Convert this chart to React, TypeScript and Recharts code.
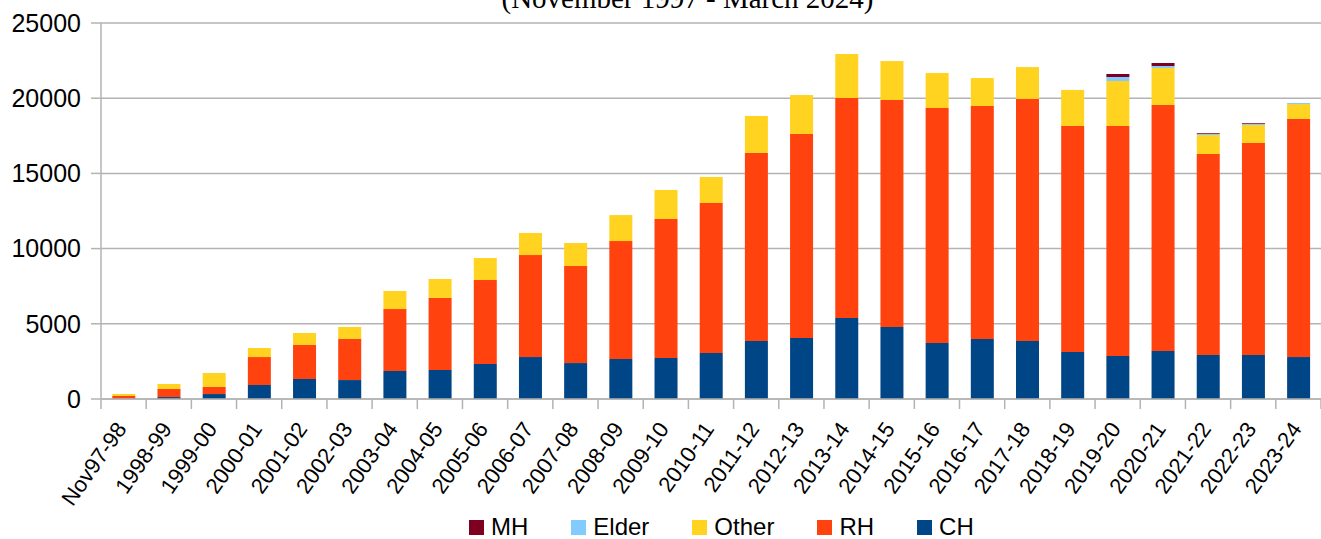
import React from "react";
import { BarChart, Bar, XAxis, YAxis, CartesianGrid } from "recharts";

const years = [
  "Nov97-98", "1998-99", "1999-00", "2000-01", "2001-02", "2002-03", "2003-04",
  "2004-05", "2005-06", "2006-07", "2007-08", "2008-09", "2009-10", "2010-11",
  "2011-12", "2012-13", "2013-14", "2014-15", "2015-16", "2016-17", "2017-18",
  "2018-19", "2019-20", "2020-21", "2021-22", "2022-23", "2023-24",
];

const ch = [
  20, 130, 330, 930, 1330, 1260, 1860, 1930, 2330, 2790, 2390, 2660, 2730, 3060,
  3860, 4060, 5390, 4790, 3720, 3990, 3860, 3130, 2860, 3190, 2930, 2930, 2790,
];
const rh = [
  180, 535, 470, 1860, 2260, 2730, 4120, 4790, 5580, 6780, 6450, 7840, 9240, 9970,
  12500, 13560, 14620, 15090, 15630, 15490, 16090, 15020, 15290, 16360, 13360, 14090, 15830,
];
const other = [
  130, 335, 930, 600, 800, 800, 1200, 1260, 1460, 1470, 1530, 1730, 1930, 1730,
  2460, 2590, 2930, 2590, 2330, 1860, 2120, 2400, 2990, 2460, 1260, 1200, 990,
];
const elder = [
  0, 0, 0, 0, 0, 0, 0, 0, 0, 0, 0, 0, 0, 0,
  0, 0, 0, 0, 0, 0, 0, 0, 270, 130, 70, 70, 70,
];
const mh = [
  0, 0, 0, 0, 0, 0, 0, 0, 0, 0, 0, 0, 0, 0,
  0, 0, 0, 0, 0, 0, 0, 0, 200, 200, 50, 50, 0,
];

const yTicks = [0, 5000, 10000, 15000, 20000, 25000];

const data = years.map((name, i) => ({
  name,
  CH: ch[i],
  RH: rh[i],
  Other: other[i],
  Elder: elder[i],
  MH: mh[i],
}));

const SERIES = [
  { key: "CH", color: "#004586" },
  { key: "RH", color: "#ff420e" },
  { key: "Other", color: "#ffd320" },
  { key: "Elder", color: "#83caff" },
  { key: "MH", color: "#7e0021" },
];

const W = 1321;
const H = 539;
const PLOT_LEFT = 101;
const PLOT_TOP = 23;
const PLOT_BOTTOM = 399;
const band = (W - PLOT_LEFT) / years.length;
const FONT = "'Liberation Sans', Arial, sans-serif";

const XTick = (props: any) => {
  const { x, y, payload, index } = props;
  const isLast = index === years.length - 1;
  const ax = x + 4;
  const ay = y + 30;
  return (
    <g>
      <line x1={x - band / 2} x2={x - band / 2} y1={y} y2={y + 10} stroke="#b3b3b3" strokeWidth={1.5} />
      {isLast && (
        <line x1={x + band / 2} x2={x + band / 2} y1={y} y2={y + 10} stroke="#b3b3b3" strokeWidth={1.5} />
      )}
      <text
        x={ax}
        y={ay}
        transform={`rotate(-55, ${ax}, ${ay})`}
        textAnchor="end"
        fontSize={22}
        fontFamily={FONT}
        fill="#000"
      >
        {payload.value}
      </text>
    </g>
  );
};

export default function App() {
  const legendItems = [...SERIES].reverse();
  return (
    <div style={{ position: "relative", width: W, height: H, background: "#fff", overflow: "hidden" }}>
      <style>{"body{margin:0}"}</style>
      <div
        style={{
          position: "absolute",
          left: 0,
          width: 1375,
          top: -18,
          textAlign: "center",
          fontFamily: "'Liberation Serif', 'Times New Roman', serif",
          fontSize: 29,
          lineHeight: "32px",
          color: "#000",
        }}
      >
        (November 1997 - March 2024)
      </div>
      <BarChart
        width={W}
        height={H}
        data={data}
        margin={{ top: PLOT_TOP, right: 0, left: 0, bottom: 0 }}
        barCategoryGap="25%"
      >
        <CartesianGrid vertical={false} stroke="#b3b3b3" strokeWidth={1.5} />
        <YAxis
          width={PLOT_LEFT}
          domain={[0, 25000]}
          ticks={yTicks}
          interval={0}
          axisLine={{ stroke: "#b3b3b3", strokeWidth: 1.5 }}
          tickLine={{ stroke: "#b3b3b3", strokeWidth: 1.5 }}
          tickSize={10}
          tickMargin={10}
          tick={{ fontSize: 25, fontFamily: FONT, fill: "#000" }}
        />
        <XAxis
          dataKey="name"
          height={H - PLOT_BOTTOM}
          interval={0}
          axisLine={{ stroke: "#b3b3b3", strokeWidth: 1.5 }}
          tickLine={false}
          tickSize={0}
          tickMargin={0}
          tick={<XTick />}
        />
        {SERIES.map((s) => (
          <Bar key={s.key} dataKey={s.key} stackId="a" fill={s.color} isAnimationActive={false} />
        ))}
      </BarChart>
      <div
        style={{
          position: "absolute",
          left: 469,
          top: 512,
          display: "flex",
          alignItems: "center",
          gap: 43,
          fontFamily: FONT,
          fontSize: 24,
          lineHeight: "30px",
          color: "#000",
        }}
      >
        {legendItems.map((s) => (
          <div key={s.key} style={{ display: "flex", alignItems: "center", gap: 7 }}>
            <span style={{ width: 15, height: 15, background: s.color, display: "inline-block" }} />
            <span>{s.key}</span>
          </div>
        ))}
      </div>
    </div>
  );
}
